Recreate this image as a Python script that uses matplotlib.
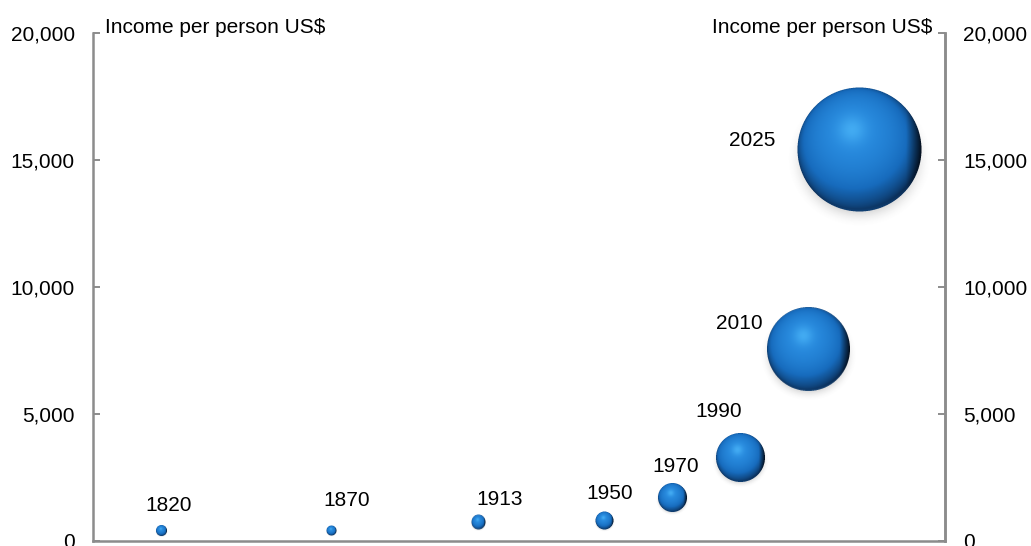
import numpy as np
import matplotlib
matplotlib.use('Agg')
import matplotlib.pyplot as plt
from matplotlib.offsetbox import OffsetImage, AnnotationBbox

# data
years = [1820, 1870, 1913, 1950, 1970, 1990, 2010, 2025]
income = [430, 430, 710, 790, 1730, 3270, 7520, 15400]
bubble_px = [11, 10, 14, 18, 29, 49, 83, 124]   # bubble diameters (pixels)
labels = ['1820', '1870', '1913', '1950', '1970', '1990', '2010', '2025']

# label offsets from bubble centre (pixels, y up)
label_off = [(7, 25), (15, 30), (22, 23), (5, 27), (3, 31), (-22, 46), (-69, 26), (-108, 9)]

yticks = [0, 5000, 10000, 15000, 20000]

plt.rcParams['font.family'] = ['Liberation Sans', 'DejaVu Sans']
FS = 15
GREY = '#8c8c8c'


def sphere_image(d, ss=4):
    # shaded ball with a soft shadow, RGBA, about d pixels across
    n = int(round(d * 1.45)) | 1
    N = n * ss
    c = (N - 1) / 2
    yy, xx = np.mgrid[0:N, 0:N]
    R = d * ss / 2
    u = (xx - c) / R
    v = (yy - c) / R

    # shadow below the ball
    sr = np.sqrt((u * 0.95) ** 2 + (v - 0.14) ** 2)
    a_sh = 0.35 * np.clip((1.12 - sr) / 0.30, 0, 1) ** 2

    r2 = u ** 2 + v ** 2
    a_s = (r2 <= 1).astype(float)
    z = np.sqrt(np.clip(1 - r2, 0, 1))
    L = np.array([-0.12, -0.30, 0.95])
    L /= np.linalg.norm(L)
    diff = np.clip(u * L[0] + v * L[1] + z * L[2], 0, 1)[..., None]

    dark = np.array([0.03, 0.14, 0.28])
    mid = np.array([0.09, 0.42, 0.74])
    light = np.array([0.16, 0.55, 0.88])
    col = np.where(diff < 0.55,
                   dark + (mid - dark) * (diff / 0.55),
                   mid + (light - mid) * ((diff - 0.55) / 0.45))
    glow = np.exp(-((u + 0.12) ** 2 + (v + 0.32) ** 2) / 0.05)[..., None]
    col = col + glow * np.array([0.10, 0.12, 0.07])
    # faint reflected light near the bottom
    refl = (np.clip(v, 0, 1) ** 2 * np.clip(r2 - 0.5, 0, 1))[..., None]
    col = col + refl * np.array([0.06, 0.22, 0.35])
    # darker right rim
    rim = np.clip((u - 0.75) / 0.25, 0, 1)[..., None]
    col = col * (1 - 0.6 * rim)
    col = np.clip(col, 0, 1)

    grey = np.array([0.45, 0.45, 0.45])
    A = a_s + a_sh * (1 - a_s)
    prem = col * a_s[..., None] + grey * (a_sh * (1 - a_s))[..., None]
    img = np.concatenate([prem, A[..., None]], axis=2)
    img = img.reshape(n, ss, n, ss, 4).mean(axis=(1, 3))
    alpha = img[..., 3:4]
    rgb = np.where(alpha > 0, img[..., :3] / np.maximum(alpha, 1e-6), 0)
    return np.concatenate([rgb, alpha], axis=2)


fig = plt.figure(figsize=(10.31, 5.46), dpi=100)
ax = fig.add_axes([93 / 1031, 5 / 546, 852 / 1031, 508 / 546])
ax.set_xlim(1800, 2050)
ax.set_ylim(0, 20000)

for yr, val, d, lab, off in zip(years, income, bubble_px, labels, label_off):
    im = OffsetImage(sphere_image(d), zoom=1, dpi_cor=False)
    ab = AnnotationBbox(im, (yr, val), xycoords='data', frameon=False,
                        box_alignment=(0.5, 0.5), pad=0)
    ax.add_artist(ab)
    ax.annotate(lab, (yr, val), xytext=off, textcoords='offset pixels',
                ha='center', va='center', fontsize=FS, color='black')

ax.spines['top'].set_visible(False)
for side in ['left', 'bottom', 'right']:
    ax.spines[side].set_color(GREY)
    ax.spines[side].set_linewidth(1.8)

ax.set_xticks([])
ax.set_yticks(yticks)
ax.set_yticklabels([f'{t:,}' for t in yticks])
ax.tick_params(axis='y', direction='in', length=5, width=1.4, color=GREY,
               labelsize=FS, pad=13)

# same scale repeated on the right
ax2 = ax.twinx()
ax2.set_ylim(ax.get_ylim())
ax2.set_yticks(yticks)
ax2.set_yticklabels([f'{t:,}' for t in yticks])
ax2.tick_params(axis='y', direction='in', length=5, width=1.4, color=GREY,
                labelsize=FS, pad=13)
for side in ['top', 'left', 'bottom']:
    ax2.spines[side].set_visible(False)
ax2.spines['right'].set_color(GREY)
ax2.spines['right'].set_linewidth(1.8)

ax.text(12 / 852, 1.0, 'Income per person US$', transform=ax.transAxes,
        ha='left', va='baseline', fontsize=FS)
ax.text(839 / 852, 1.0, 'Income per person US$', transform=ax.transAxes,
        ha='right', va='baseline', fontsize=FS)

fig.savefig('out.png', dpi=100)
